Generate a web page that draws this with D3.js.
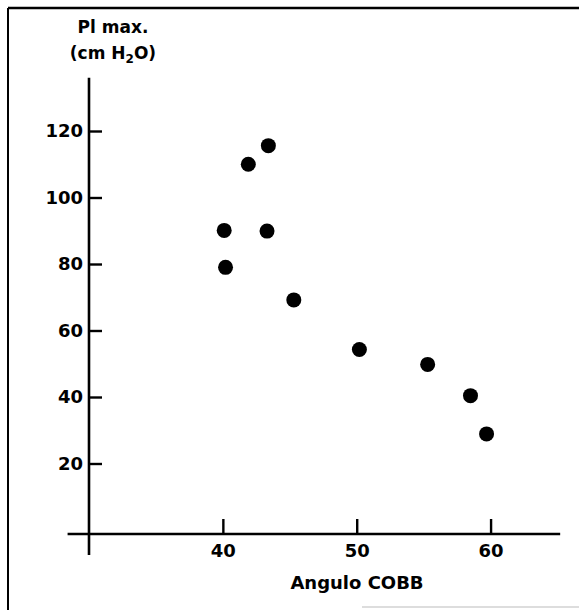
<!DOCTYPE html>
<html>
<head>
<meta charset="utf-8">
<script src="https://cdn.jsdelivr.net/npm/d3@7"></script>
<style>
  body { margin: 0; background: #fff; }
  text { font-family: "DejaVu Sans", sans-serif; font-weight: bold; fill: #000; }
</style>
</head>
<body>
<div id="chart"></div>
<script>
// values
var cobbAngle = [43.4, 41.9, 40.1, 43.3, 40.2, 45.3, 50.2, 55.3, 58.5, 59.7];
var piMax     = [115.6, 110.0, 90.1, 89.9, 79.0, 69.2, 54.3, 49.8, 40.4, 28.9];
var xTicks = [40, 50, 60];
var yTicks = [20, 40, 60, 80, 100, 120];

var points = d3.map(cobbAngle, (d, i) => ({ x: d, y: piMax[i] }));

const canvWidth = 579, canvHeight = 610;

const svg = d3.select("#chart").append("svg")
  .attr("width", canvWidth)
  .attr("height", canvHeight);

// scales
const xScale = d3.scaleLinear().domain([30, 65]).range([89, 557.5]);
const yScale = d3.scaleLinear().domain([0, 120]).range([530, 131]);

// frame of the scanned figure
svg.append("line")
  .attr("x1", 8).attr("y1", 8).attr("x2", 579).attr("y2", 8)
  .style("stroke", "#000").style("stroke-width", 2.5);
svg.append("line")
  .attr("x1", 8).attr("y1", 8).attr("x2", 8).attr("y2", 610)
  .style("stroke", "#000").style("stroke-width", 2);
svg.append("line")
  .attr("x1", 362).attr("y1", 607).attr("x2", 579).attr("y2", 607)
  .style("stroke", "#bbb").style("stroke-width", 1);

// y axis: ticks inside, labels outside
const yAxis = d3.axisLeft(yScale)
  .tickValues(yTicks)
  .tickSizeInner(-13)
  .tickSizeOuter(0)
  .tickPadding(6);

const gy = svg.append("g")
  .attr("id", "yAxis")
  .attr("transform", "translate(" + xScale(30) + ",0)")
  .call(yAxis);

gy.select(".domain").remove();
gy.append("line")
  .attr("x1", 0).attr("x2", 0)
  .attr("y1", yScale(136)).attr("y2", yScale(-7.5))
  .style("stroke", "#000").style("stroke-width", 2.6);
gy.selectAll(".tick line").style("stroke", "#000").style("stroke-width", 2.4);
gy.selectAll(".tick text")
  .attr("font-size", "18px")
  .attr("font-family", "DejaVu Sans, sans-serif")
  .attr("font-weight", "bold");

// x axis: ticks upward, labels below
const xAxis = d3.axisBottom(xScale)
  .tickValues(xTicks)
  .tickSizeInner(-15)
  .tickSizeOuter(0)
  .tickPadding(10);

const gx = svg.append("g")
  .attr("id", "xAxis")
  .attr("transform", "translate(0,534)")
  .call(xAxis);

gx.select(".domain").remove();
gx.append("line")
  .attr("x1", xScale(28.4)).attr("x2", xScale(65.2))
  .attr("y1", 0).attr("y2", 0)
  .style("stroke", "#000").style("stroke-width", 2.4);
gx.selectAll(".tick line").style("stroke", "#000").style("stroke-width", 2.4);
gx.selectAll(".tick text")
  .attr("font-size", "18px")
  .attr("font-family", "DejaVu Sans, sans-serif")
  .attr("font-weight", "bold");

// points
svg.append("g")
  .attr("class", "circle-plots")
  .selectAll("circle.dot")
  .data(points)
  .enter()
  .append("circle")
  .attr("class", "dot")
  .attr("cx", d => xScale(d.x))
  .attr("cy", d => yScale(d.y))
  .attr("r", 7.5)
  .style("fill", "#000");

// axis titles
svg.append("text")
  .attr("x", 113)
  .attr("y", 33)
  .attr("font-size", "17px")
  .style("text-anchor", "middle")
  .text("Pl max.");

const unit = svg.append("text")
  .attr("x", 113)
  .attr("y", 59)
  .attr("font-size", "17px")
  .style("text-anchor", "middle");
unit.append("tspan").text("(cm H");
unit.append("tspan").attr("dy", 4).attr("font-size", "12px").text("2");
unit.append("tspan").attr("dy", -4).text("O)");

svg.append("text")
  .attr("x", 357)
  .attr("y", 589)
  .attr("font-size", "18px")
  .style("text-anchor", "middle")
  .text("Angulo COBB");
</script>
</body>
</html>
